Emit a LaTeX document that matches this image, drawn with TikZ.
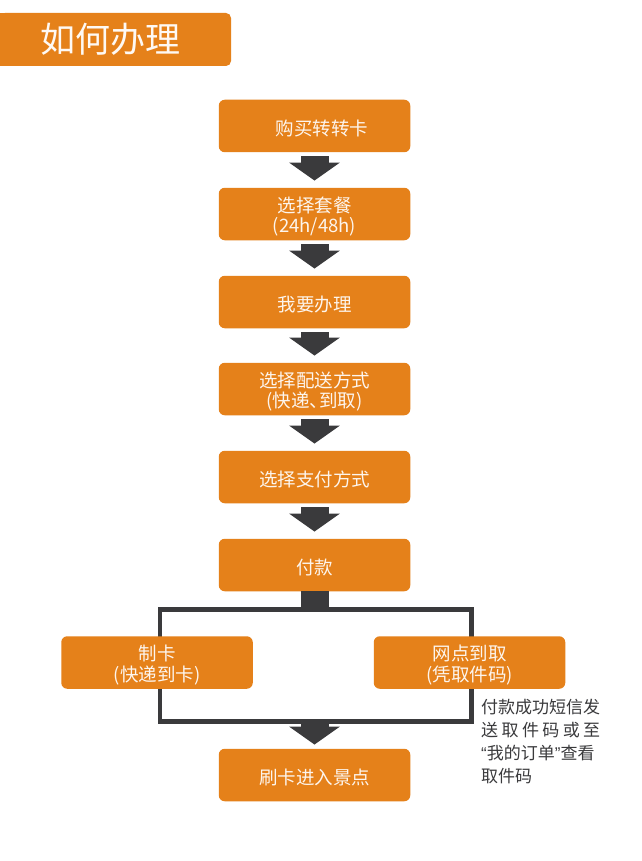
\documentclass[tikz,border=0pt]{standalone}
\usepackage{fontspec}
\setmainfont{Noto Sans CJK SC}
\newfontfamily\latinq{Liberation Sans}
\usetikzlibrary{arrows.meta,backgrounds}
\definecolor{orangebox}{HTML}{E5811A}
\definecolor{darkline}{HTML}{3A3A3C}
\newcommand\lowtext{\rule{0pt}{20.5pt}}
\tikzset{
  x=1pt,y=-1pt,
  stepbox/.style={fill=orangebox,rounded corners=6pt,minimum width=191.5pt,minimum height=52.5pt,
    inner sep=0pt,align=center,text=white!92!orangebox,font=\fontsize{18.5}{20.5}\selectfont},
  flowarrow/.style={draw=darkline,line width=28pt,-{Triangle[length=18pt,width=50pt]},shorten <=4pt,shorten >=7pt},
  framesline/.style={draw=darkline,line width=4.5pt},
}
\begin{document}
\begin{tikzpicture}
\useasboundingbox (0,0) rectangle (641,861);
\node[fill=orangebox,rounded corners=5pt,minimum width=231pt,minimum height=53pt,inner sep=0pt] (title) at (115.5,39.5) {};
\fill[orangebox] (0,13.5) rectangle (20,66);
\node[anchor=center,text=white!95!orangebox,font=\fontsize{35}{40}\selectfont] (titletext) at (110.5,39) {如何办理};

\node[stepbox] (buy) at (314.5,126) {\lowtext\hspace*{15pt}购买转转卡};
\node[stepbox] (plan) at (314.5,214) {\lowtext 选择套餐\\(24h/48h)};
\node[stepbox] (apply) at (314.5,302) {\lowtext 我要办理};
\node[stepbox] (ship) at (314.5,389) {\lowtext 选择配送方式\\(快递、{\kern-9pt}到取)};
\node[stepbox] (paym) at (314.5,477) {\lowtext 选择支付方式};
\node[stepbox] (pay) at (314.5,565) {\lowtext 付款};
\node[stepbox] (card) at (157,662.5) {\lowtext 制卡\\(快递到卡)};
\node[stepbox] (pick) at (469.5,662.5) {\lowtext 网点到取\\(凭取件码)};
\node[stepbox] (enter) at (314.5,775) {\lowtext 刷卡进入景点};

\coordinate (ftl) at (160,609.5);
\coordinate (fbr) at (471.5,721.5);
\coordinate (ftm) at (pay.south |- ftl);
\coordinate (fbm) at (enter.north |- fbr);
\begin{scope}[on background layer]
\fill[white] (0,0) rectangle (641,861);
\draw[framesline] (ftl) rectangle (fbr);
\end{scope}
\draw[darkline,line width=28pt] (pay.south) -- (ftm);
\draw[flowarrow] (buy) -- (plan);
\draw[flowarrow] (plan) -- (apply);
\draw[flowarrow] (apply) -- (ship);
\draw[flowarrow] (ship) -- (paym);
\draw[flowarrow] (paym) -- (pay);
\draw[flowarrow,shorten <=0pt,shorten >=4pt] (fbm) -- (enter.north);

\node[anchor=north west,inner sep=0pt,align=left,text=darkline,font=\fontsize{17}{23.3}\selectfont] (note) at (481,698.5) {%
付款成功短信发\\
\makebox[119pt][s]{送\hfil 取\hfil 件\hfil 码\hfil 或\hfil 至}\\
\makebox[119pt][s]{{\latinq “}我的订单{\latinq ”}查看}\\
取件码};
\end{tikzpicture}
\end{document}
